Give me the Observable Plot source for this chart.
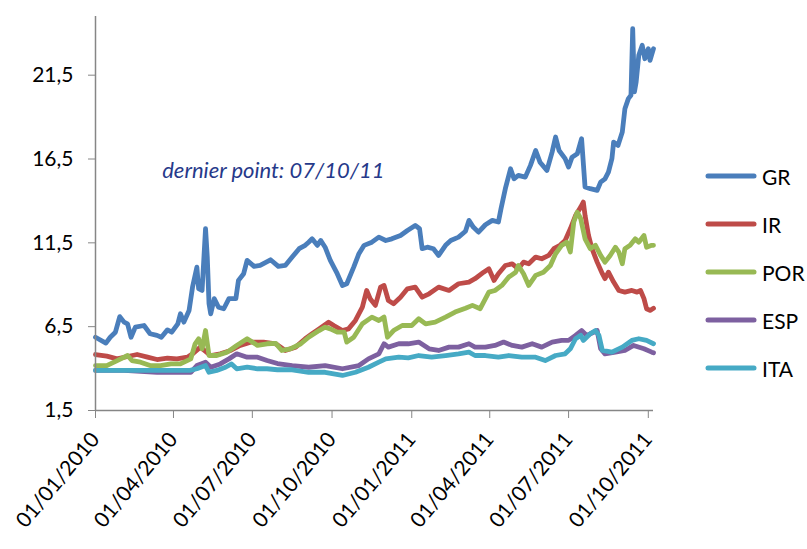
<!DOCTYPE html>
<html>
<head>
<meta charset="utf-8">
<script src="https://cdn.jsdelivr.net/npm/d3@7"></script>
<script src="https://cdn.jsdelivr.net/npm/@observablehq/plot@0.6"></script>
<style>
  body { margin: 0; background: #ffffff; font-family: Lato, "Open Sans", sans-serif; }
  #chart { position: relative; width: 807px; height: 549px; overflow: hidden; background: #fff; }
  .legend-item { position: absolute; left: 705px; height: 24px; display: flex; align-items: center; font-size: 21px; color: #000; }
  .legend-item svg { margin-right: 5px; }
</style>
</head>
<body>
<div id="chart"></div>
<script>
// ---- series names / colours ----
const seriesNames  = ["GR", "IR", "POR", "ESP", "ITA"];
const seriesColors = ["#4a7ebb", "#be4b48", "#98b954", "#7d60a0", "#46aac5"];

// ---- axis ticks ----
const yTicks = [1.5, 6.5, 11.5, 16.5, 21.5];
const xTicks = ["2010-01-01","2010-04-01","2010-07-01","2010-10-01","2011-01-01","2011-04-01","2011-07-01","2011-10-01"];
const xStart = "2010-01-01";
const xEnd   = "2011-10-07";
const annotationText = "dernier point: 07/10/11";
const annotationDate = "2010-03-19";
const annotationValue = 15.8;

// ---- GR ----
const grDates = ["2010-01-01","2010-01-13","2010-01-18","2010-01-24","2010-01-29","2010-02-03","2010-02-07","2010-02-11","2010-02-16","2010-02-26","2010-03-05","2010-03-13","2010-03-18","2010-03-25","2010-03-30","2010-04-06","2010-04-09","2010-04-13","2010-04-19","2010-04-23","2010-04-28","2010-04-30","2010-05-04","2010-05-08","2010-05-10","2010-05-12","2010-05-14","2010-05-18","2010-05-23","2010-05-29","2010-06-04","2010-06-12","2010-06-15","2010-06-21","2010-06-25","2010-07-03","2010-07-10","2010-07-22","2010-07-31","2010-08-08","2010-08-16","2010-08-24","2010-08-31","2010-09-04","2010-09-08","2010-09-14","2010-09-18","2010-09-23","2010-09-29","2010-10-07","2010-10-13","2010-10-18","2010-10-26","2010-11-01","2010-11-07","2010-11-16","2010-11-24","2010-12-02","2010-12-09","2010-12-19","2010-12-27","2011-01-05","2011-01-10","2011-01-13","2011-01-19","2011-01-26","2011-02-01","2011-02-09","2011-02-15","2011-02-24","2011-03-04","2011-03-08","2011-03-13","2011-03-19","2011-03-27","2011-04-04","2011-04-11","2011-04-14","2011-04-19","2011-04-25","2011-04-29","2011-05-04","2011-05-12","2011-05-18","2011-05-24","2011-05-29","2011-06-06","2011-06-12","2011-06-16","2011-06-20","2011-06-27","2011-07-01","2011-07-05","2011-07-11","2011-07-16","2011-07-20","2011-07-26","2011-08-03","2011-08-07","2011-08-12","2011-08-16","2011-08-20","2011-08-22","2011-08-27","2011-09-01","2011-09-04","2011-09-08","2011-09-11","2011-09-13","2011-09-15","2011-09-17","2011-09-20","2011-09-24","2011-09-27","2011-10-01","2011-10-03","2011-10-07"];
const grValues = [5.87,5.52,5.87,6.17,7.10,6.77,6.67,5.87,6.47,6.57,6.08,5.98,5.87,6.31,6.17,6.67,7.27,6.77,7.47,8.86,10.05,8.77,8.66,12.34,10.65,7.87,7.27,8.17,7.66,7.57,8.17,8.17,9.26,9.66,10.45,10.10,10.15,10.49,10.10,10.15,10.65,11.15,11.35,11.54,11.74,11.35,11.64,11.24,10.45,9.66,8.96,9.06,10.05,10.85,11.35,11.54,11.84,11.64,11.74,11.94,12.24,12.54,12.34,11.15,11.24,11.15,10.75,11.35,11.64,11.84,12.19,12.84,12.44,12.14,12.58,12.84,12.74,13.53,14.73,15.92,15.32,15.52,15.42,16.12,17.01,16.31,15.82,16.91,17.81,17.01,16.52,16.02,16.61,16.81,17.71,14.83,14.73,14.63,15.12,15.32,15.72,16.52,17.51,17.31,18.11,19.50,20.10,20.30,24.27,20.50,21.10,22.68,23.28,22.48,23.08,22.38,23.08];

// ---- IR ----
const irDates = ["2010-01-01","2010-01-14","2010-01-26","2010-02-07","2010-02-18","2010-03-02","2010-03-13","2010-03-25","2010-04-05","2010-04-17","2010-04-23","2010-05-02","2010-05-14","2010-05-25","2010-06-06","2010-06-17","2010-06-29","2010-07-14","2010-07-28","2010-08-08","2010-08-20","2010-08-31","2010-09-08","2010-09-16","2010-09-27","2010-10-03","2010-10-13","2010-10-20","2010-10-28","2010-11-05","2010-11-10","2010-11-14","2010-11-20","2010-11-26","2010-11-30","2010-12-05","2010-12-11","2010-12-19","2010-12-27","2011-01-05","2011-01-13","2011-01-21","2011-02-01","2011-02-13","2011-02-24","2011-03-08","2011-03-15","2011-03-25","2011-03-31","2011-04-06","2011-04-11","2011-04-19","2011-04-27","2011-05-04","2011-05-10","2011-05-16","2011-05-24","2011-05-31","2011-06-08","2011-06-14","2011-06-21","2011-06-27","2011-07-03","2011-07-09","2011-07-15","2011-07-18","2011-07-20","2011-07-24","2011-07-28","2011-08-03","2011-08-09","2011-08-12","2011-08-16","2011-08-22","2011-08-28","2011-09-04","2011-09-12","2011-09-18","2011-09-22","2011-09-26","2011-09-29","2011-10-03","2011-10-07"];
const irValues = [4.84,4.74,4.58,4.72,4.84,4.68,4.54,4.62,4.58,4.68,4.88,5.28,4.78,4.88,5.08,5.38,5.58,5.58,5.48,5.08,5.28,5.78,6.08,6.37,6.77,6.57,6.27,6.37,6.87,7.66,8.66,8.17,7.77,8.86,8.96,8.06,7.87,8.26,8.76,8.86,8.26,8.46,8.86,8.66,9.06,9.16,9.36,9.75,9.95,9.26,9.66,10.15,10.25,9.95,10.35,10.25,10.65,10.55,10.75,11.15,11.35,11.64,12.34,13.13,13.63,13.93,13.13,11.94,11.15,10.35,9.66,9.36,9.75,9.16,8.66,8.56,8.66,8.56,8.66,8.17,7.57,7.47,7.60];

// ---- POR ----
const porDates = ["2010-01-01","2010-01-14","2010-01-26","2010-02-07","2010-02-12","2010-02-22","2010-03-05","2010-03-17","2010-03-29","2010-04-09","2010-04-21","2010-04-26","2010-04-30","2010-05-04","2010-05-08","2010-05-12","2010-05-21","2010-06-02","2010-06-13","2010-06-25","2010-07-07","2010-07-18","2010-07-28","2010-08-04","2010-08-14","2010-08-26","2010-09-04","2010-09-16","2010-09-23","2010-09-29","2010-10-07","2010-10-15","2010-10-18","2010-10-26","2010-11-05","2010-11-16","2010-11-24","2010-11-30","2010-12-04","2010-12-11","2010-12-21","2011-01-01","2011-01-09","2011-01-17","2011-01-28","2011-02-09","2011-02-20","2011-03-04","2011-03-12","2011-03-21","2011-03-31","2011-04-07","2011-04-15","2011-04-23","2011-05-01","2011-05-04","2011-05-10","2011-05-16","2011-05-24","2011-06-02","2011-06-10","2011-06-16","2011-06-23","2011-06-29","2011-07-03","2011-07-07","2011-07-11","2011-07-15","2011-07-20","2011-07-26","2011-08-01","2011-08-07","2011-08-12","2011-08-18","2011-08-24","2011-08-28","2011-09-01","2011-09-04","2011-09-10","2011-09-16","2011-09-20","2011-09-26","2011-09-29","2011-10-05","2011-10-07"];
const porValues = [4.18,4.18,4.48,4.78,4.48,4.38,4.18,4.18,4.28,4.28,4.58,5.48,5.78,5.18,6.27,4.78,4.78,4.98,5.38,5.78,5.38,5.48,5.50,5.08,5.18,5.48,5.87,6.27,6.47,6.37,6.17,6.17,5.58,5.87,6.67,7.07,6.87,7.07,5.87,6.27,6.57,6.57,6.97,6.67,6.77,7.07,7.37,7.60,7.77,7.57,8.56,8.66,8.96,9.46,9.75,10.15,9.66,8.96,9.56,9.75,10.15,10.85,11.35,11.54,10.95,12.74,13.33,12.94,11.74,11.15,11.35,10.75,10.35,10.75,11.24,10.95,10.25,11.15,11.35,11.74,11.54,11.94,11.24,11.35,11.35];

// ---- ESP ----
const espDates = ["2010-01-01","2010-02-03","2010-03-13","2010-04-01","2010-04-21","2010-04-28","2010-05-08","2010-05-14","2010-05-25","2010-06-04","2010-06-13","2010-06-25","2010-07-07","2010-07-18","2010-07-30","2010-08-16","2010-09-04","2010-09-23","2010-10-13","2010-11-01","2010-11-12","2010-11-24","2010-11-30","2010-12-05","2010-12-17","2010-12-28","2011-01-09","2011-01-21","2011-02-01","2011-02-13","2011-02-24","2011-03-08","2011-03-15","2011-03-27","2011-04-07","2011-04-17","2011-04-27","2011-05-08","2011-05-20","2011-05-31","2011-06-12","2011-06-23","2011-07-01","2011-07-09","2011-07-16","2011-07-22","2011-07-30","2011-08-03","2011-08-07","2011-08-12","2011-08-24","2011-09-04","2011-09-14","2011-09-26","2011-10-05","2011-10-07"];
const espValues = [3.89,3.89,3.78,3.78,3.78,4.18,4.38,4.08,4.28,4.58,4.88,4.68,4.68,4.48,4.30,4.18,4.08,4.18,3.99,4.18,4.58,4.88,5.48,5.28,5.48,5.48,5.58,5.18,5.08,5.28,5.28,5.48,5.28,5.28,5.38,5.58,5.38,5.28,5.48,5.28,5.58,5.68,5.68,5.98,6.27,5.98,6.17,6.27,5.18,4.88,4.98,5.08,5.38,5.18,4.98,4.94];

// ---- ITA ----
const itaDates = ["2010-01-01","2010-04-20","2010-04-28","2010-05-08","2010-05-12","2010-05-21","2010-05-31","2010-06-07","2010-06-13","2010-06-25","2010-07-07","2010-07-18","2010-07-30","2010-08-16","2010-09-04","2010-09-23","2010-10-13","2010-10-28","2010-11-12","2010-11-24","2010-12-02","2010-12-17","2010-12-28","2011-01-09","2011-01-24","2011-02-09","2011-02-24","2011-03-08","2011-03-15","2011-03-27","2011-04-11","2011-04-23","2011-05-08","2011-05-24","2011-06-04","2011-06-16","2011-06-27","2011-07-03","2011-07-09","2011-07-15","2011-07-18","2011-07-26","2011-08-01","2011-08-05","2011-08-09","2011-08-20","2011-09-01","2011-09-12","2011-09-20","2011-09-29","2011-10-07"];
const itaValues = [3.89,3.89,3.99,4.18,3.78,3.89,4.08,4.28,3.99,4.08,3.99,3.99,3.93,3.93,3.78,3.78,3.59,3.78,4.08,4.38,4.58,4.68,4.64,4.78,4.68,4.78,4.88,4.98,4.78,4.78,4.68,4.78,4.68,4.68,4.48,4.78,4.88,5.18,5.78,5.98,5.68,6.08,6.27,5.98,5.08,4.98,5.28,5.68,5.78,5.68,5.48];

// ---- build table ----
const seriesDates  = [grDates, irDates, porDates, espDates, itaDates];
const seriesValues = [grValues, irValues, porValues, espValues, itaValues];
const rows = [];
seriesNames.forEach((name, i) => {
  seriesDates[i].forEach((d, j) => rows.push({series: name, date: new Date(d), value: seriesValues[i][j]}));
});

const fmtComma = d => d.toFixed(1).replace(".", ",");
const fmtDate = d3.utcFormat("%d/%m/%Y");
const axisGray = "#868686";

const chart = Plot.plot({
  width: 807,
  height: 549,
  marginLeft: 95,
  marginRight: 154,
  marginTop: 16,
  marginBottom: 139,
  style: {fontFamily: "Lato, 'Open Sans', sans-serif", color: "#000", background: "#fff", overflow: "visible"},
  x: {type: "utc", domain: [new Date(xStart), new Date(xEnd)]},
  y: {domain: [1.5, 25]},
  color: {domain: seriesNames, range: seriesColors},
  marks: [
    Plot.line(rows, {x: "date", y: "value", z: "series", stroke: "series", strokeWidth: 4.8, strokeLinejoin: "round", strokeLinecap: "round", curve: "linear"}),
    Plot.ruleX([new Date(xStart)], {stroke: axisGray, strokeWidth: 1.5}),
    Plot.ruleY([1.5], {stroke: axisGray, strokeWidth: 1.5}),
    Plot.axisY({ticks: yTicks, tickFormat: fmtComma, tickSize: 7, tickPadding: 15, fontSize: 21, stroke: axisGray, label: null}),
    Plot.axisX({ticks: xTicks.map(d => new Date(d)), tickFormat: fmtDate, tickRotate: -50, tickSize: 8, tickPadding: 17, fontSize: 21, stroke: axisGray, label: null}),
    Plot.text([annotationText], {x: () => new Date(annotationDate), y: () => annotationValue, text: d => d, textAnchor: "start", fontStyle: "italic", fontSize: 22, fill: "#26398a"})
  ]
});

const container = document.getElementById("chart");
container.appendChild(chart);

// ---- legend (line swatches) ----
const legendTop = 164;
const legendStep = 48;
seriesNames.forEach((name, i) => {
  const item = document.createElement("div");
  item.className = "legend-item";
  item.style.top = (legendTop + i * legendStep) + "px";
  item.innerHTML = `<svg width="52" height="10"><line x1="3" y1="5" x2="49" y2="5" stroke="${seriesColors[i]}" stroke-width="5" stroke-linecap="round"/></svg><span>${name}</span>`;
  container.appendChild(item);
});
</script>
</body>
</html>
